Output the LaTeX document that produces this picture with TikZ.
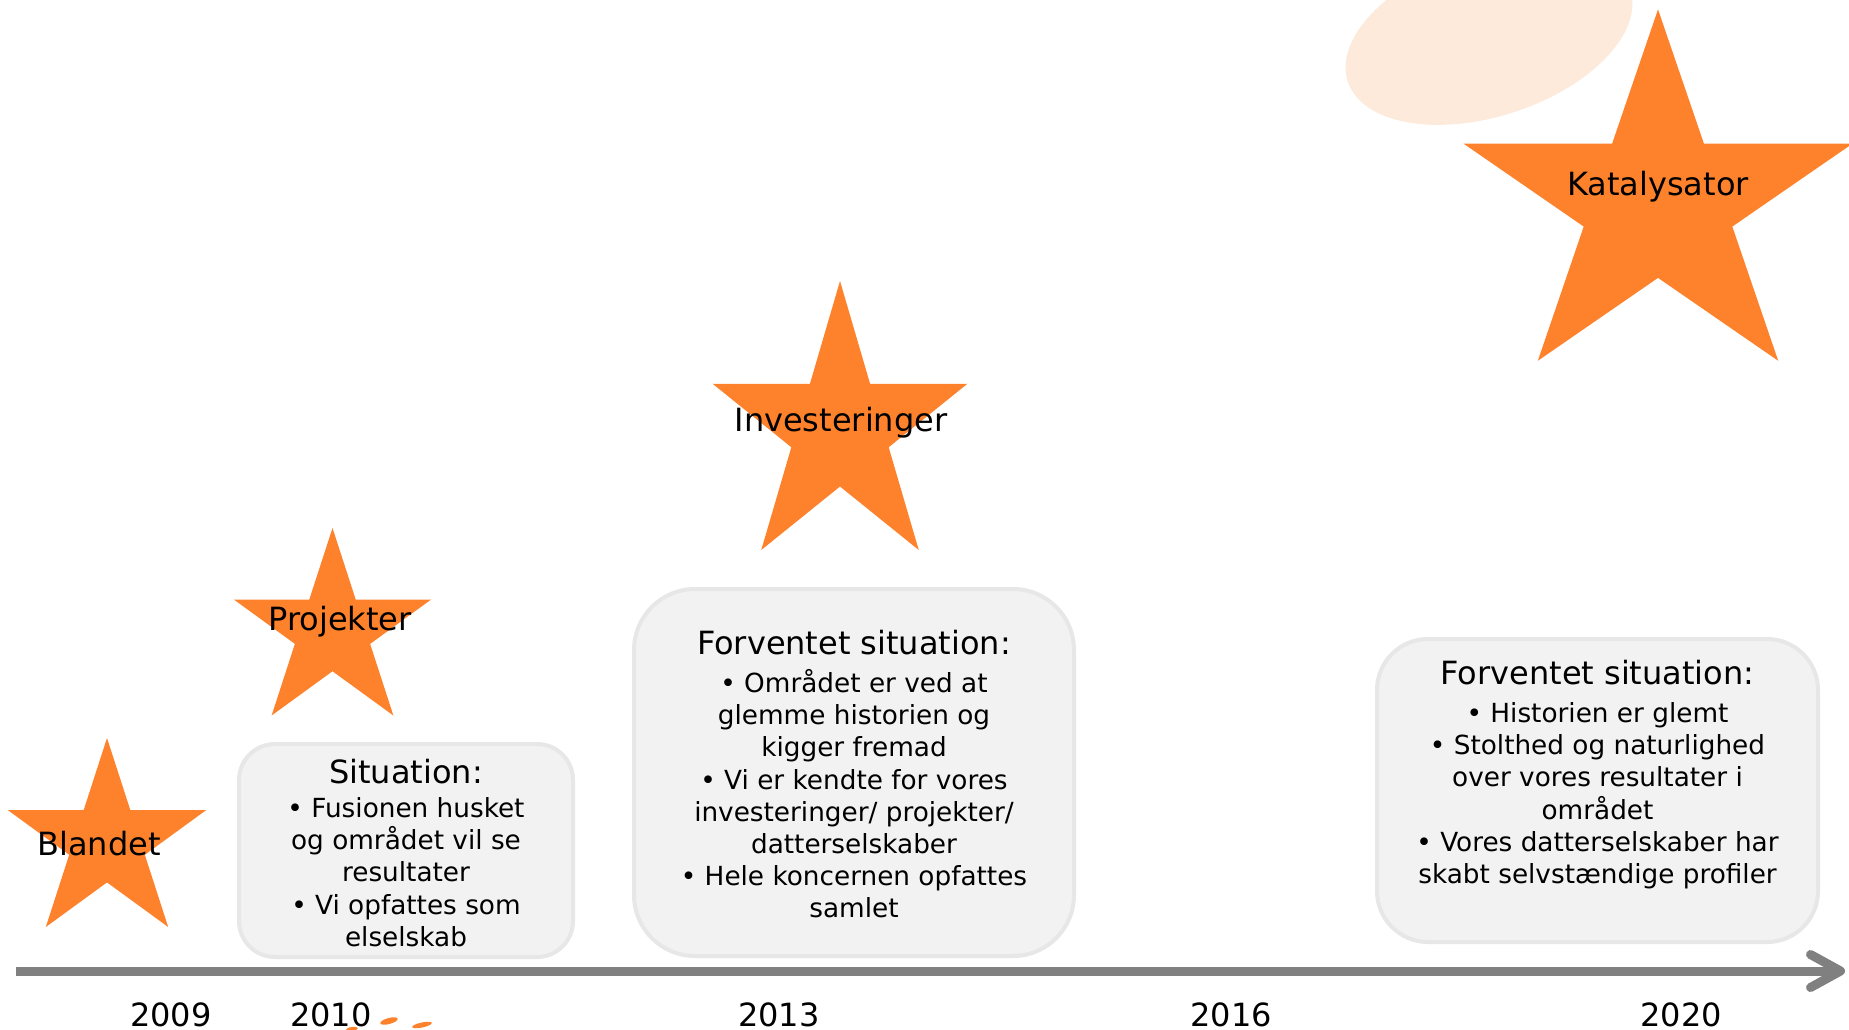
\documentclass[tikz,border=0pt]{standalone}
\usepackage{fontspec}
\setmainfont{DejaVu Sans}
\usepackage{tikz}
\usetikzlibrary{arrows.meta}
\definecolor{starorange}{RGB}{254,130,44}
\definecolor{peach}{RGB}{253,234,218}
\definecolor{boxfill}{RGB}{242,242,242}
\definecolor{boxline}{RGB}{231,231,231}
\definecolor{axisgray}{RGB}{128,128,128}

\begin{document}
\begin{tikzpicture}[x=1pt,y=-1pt,
  bigtext/.style={font=\fontsize{32}{38}\selectfont,inner sep=0pt,anchor=base},
  smalltext/.style={font=\fontsize{26.3}{32.2}\selectfont,align=center,inner sep=0pt,anchor=base},
  sitbox/.style={draw=boxline,line width=4pt,fill=boxfill,inner sep=0pt},
  orangestar/.pic={\fill[starorange] (0,0) -- (0.236,0.382) -- (1,0.382) -- (0.382,0.618) -- (0.618,1) -- (0,0.764) -- (-0.618,1) -- (-0.382,0.618) -- (-1,0.382) -- (-0.236,0.382) -- cycle;}]
\useasboundingbox[fill=white] (0,0) rectangle (1849,1030);

\fill[peach,rotate around={18:(1489,35.5)}] (1489,35.5) ellipse [x radius=148.5,y radius=80.6];

\pic[xscale=99,yscale=189] at (107,738) {orangestar};
\pic[xscale=98.5,yscale=187.5] at (332.5,528) {orangestar};
\pic[xscale=127.4,yscale=269] at (840,281) {orangestar};
\pic[xscale=194.5,yscale=351.4] at (1658,9.4) {orangestar};
\node[bigtext] (blandet) at (99,855.5) {Blandet};
\node[bigtext] (projekter) at (340,630.5) {Projekter};
\node[bigtext] (investeringer) at (841,431.5) {Investeringer};
\node[bigtext] (katalysator) at (1658,195.5) {Katalysator};

\node[sitbox,rounded corners=36pt,minimum width=334pt,minimum height=213pt] (box1) at (406,850.5) {};
\node[sitbox,rounded corners=61pt,minimum width=440pt,minimum height=367pt] (box2) at (854,772.5) {};
\node[sitbox,rounded corners=51pt,minimum width=441pt,minimum height=303pt] (box3) at (1597.5,790.5) {};

\node[bigtext] (head1) at (406,783.5) {Situation:};
\node[smalltext] (body1) at (406,946.2) {• Fusionen husket\\og området vil se\\resultater\\• Vi opfattes som\\elselskab};
\node[bigtext] (head2) at (854,654.5) {Forventet situation:};
\node[smalltext] (body2) at (854,917.8) {• Området er ved at\\glemme historien og\\kigger fremad\\• Vi er kendte for vores\\investeringer/ projekter/\\datterselskaber\\• Hele koncernen opfattes\\samlet};
\node[bigtext] (head3) at (1597.5,684.5) {Forventet situation:};
\node[smalltext] (body3) at (1597.5,883.4) {• Historien er glemt\\• Stolthed og naturlighed\\over vores resultater i\\området\\• Vores datterselskaber har\\skabt selvstændige profiler};

\coordinate (axisstart) at (16,971);
\coordinate (axisend) at (1845,971);
\draw[axisgray,line width=9pt,-{Straight Barb[round,length=30pt,width=33pt]}] (axisstart) -- (axisend);

\node[bigtext] (y2009) at (171,1026) {2009};
\node[bigtext] (y2010) at (331,1026) {2010};
\node[bigtext] (y2013) at (779,1026) {2013};
\node[bigtext] (y2016) at (1231,1026) {2016};
\node[bigtext] (y2020) at (1681,1026) {2020};

\fill[starorange,rotate around={15:(389,1021)}] (389,1021) ellipse [x radius=9,y radius=3];
\fill[starorange,rotate around={12:(422,1025)}] (422,1025) ellipse [x radius=10,y radius=2.5];
\fill[starorange,rotate around={8:(352,1029)}] (352,1029) ellipse [x radius=6,y radius=2];
\end{tikzpicture}
\end{document}
